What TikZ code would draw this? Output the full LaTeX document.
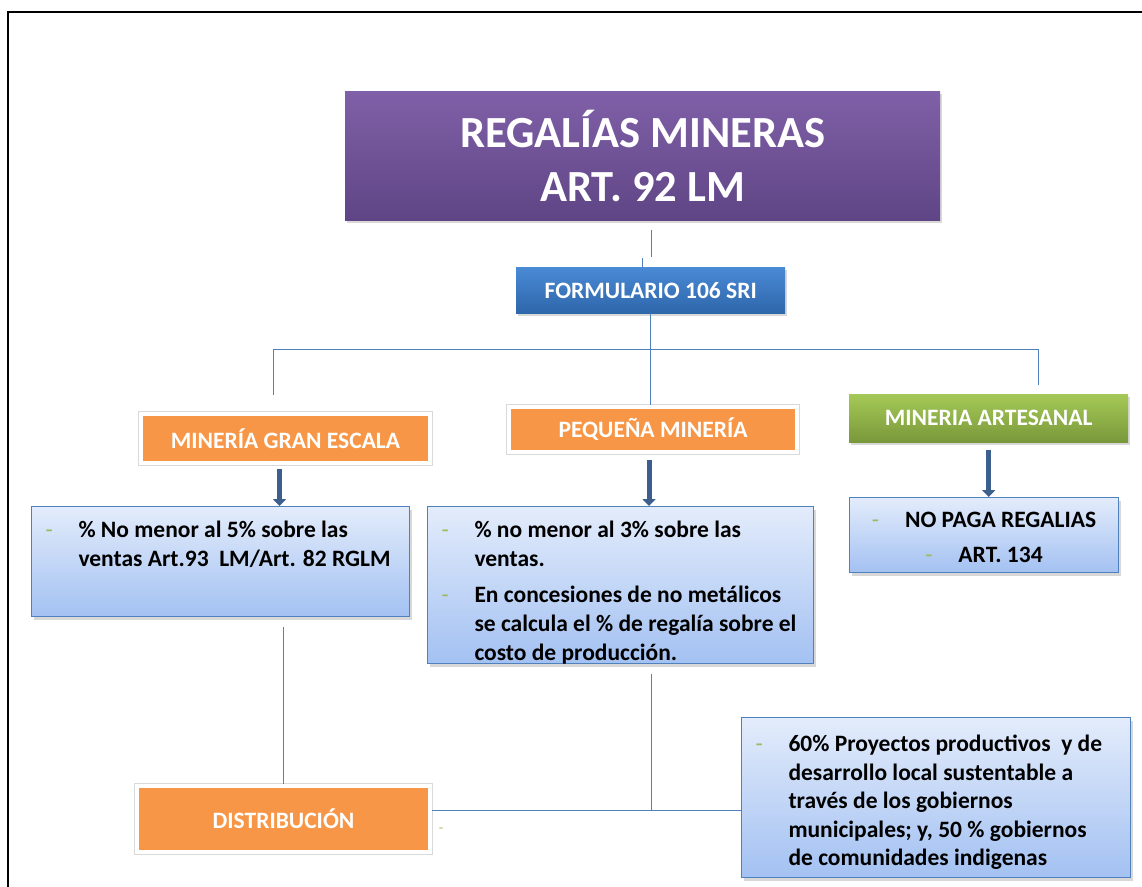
\documentclass[tikz,border=0pt]{standalone}
\usepackage{fontspec}
\setmainfont{Carlito}
\usetikzlibrary{arrows.meta,shadows,positioning}

\definecolor{lineblue}{HTML}{4F81BD}
\definecolor{arrowblue}{HTML}{3C5F8E}
\definecolor{headorange}{HTML}{F79646}
\definecolor{dashgreen}{HTML}{9BBB59}
\definecolor{purpletop}{HTML}{8060A8}
\definecolor{purplebot}{HTML}{5F4585}
\definecolor{formtop}{HTML}{4A8AD6}
\definecolor{formbot}{HTML}{2E66AA}
\definecolor{greentop}{HTML}{A5C957}
\definecolor{greenbot}{HTML}{79983A}
\definecolor{infotop}{HTML}{E3ECFB}
\definecolor{infobot}{HTML}{A3C1F2}

% guion verde con sangria francesa
\newcommand\dashitem[1]{\par\noindent\hangindent=47pt\hangafter=1%
  \makebox[47pt][l]{\hspace{14pt}\textcolor{dashgreen}{\normalfont -}}#1\par}
\newcommand\infotext[3]{\parbox[c][#2][t]{#1}{#3}}

\tikzset{
  conn/.style={draw=lineblue, line width=1pt},
  bigarrow/.style={draw=arrowblue, line width=5pt, -{Triangle[width=13pt,length=7pt]}},
  softshadow/.style={drop shadow={opacity=0.3, shadow xshift=2pt, shadow yshift=-3pt}},
  headbox/.style={rectangle, anchor=north west, inner sep=0pt, text=white,
    font=\bfseries\fontsize{23.5}{28}\selectfont, softshadow},
  orangebox/.style={headbox, fill=headorange, draw=white, line width=4pt,
    preaction={draw=black!15, line width=5.5pt}},
  infobox/.style={rectangle, anchor=north west, inner sep=0pt, draw=lineblue,
    line width=1pt, top color=infotop, bottom color=infobot, softshadow,
    font=\bfseries\fontsize{23.5}{29}\selectfont},
}

\begin{document}
\begin{tikzpicture}[x=1pt,y=-1pt]
\useasboundingbox (0,0) rectangle (1142,886);
\fill[white] (0,0) rectangle (1142,886);
% marco
\draw[line width=2pt] (7.5,900) -- (7.5,12) -- (1150,12);

% titulo
\node[headbox, top color=purpletop, bottom color=purplebot, minimum width=595pt,
  minimum height=129pt, align=center, font=\bfseries\fontsize{44.5}{54}\selectfont]
  (title) at (345,91) {REGALÍAS MINERAS\\ART. 92 LM};
\node[headbox, top color=formtop, bottom color=formbot, minimum width=269pt,
  minimum height=46pt] (form) at (516,267) {FORMULARIO 106 SRI};

% tipos de mineria
\node[orangebox, minimum width=289pt, minimum height=49pt] (gran) at (139,412)
  {MINERÍA GRAN ESCALA};
\node[orangebox, minimum width=288pt, minimum height=45pt] (peq) at (507,405)
  {PEQUEÑA MINERÍA};
\node[headbox, top color=greentop, bottom color=greenbot, minimum width=279pt,
  minimum height=48pt] (art) at (849,394) {MINERIA ARTESANAL};

% cajas de detalle
\node[infobox] (b1) at (31,506) {\infotext{378pt}{110pt}{\vspace*{14.5pt}%
  \dashitem{\mbox{\% No menor al 5\% sobre las}\\\mbox{ventas Art.93\ \ LM/Art. 82 RGLM}}}};
\node[infobox] (b2) at (427,506) {\infotext{386pt}{157pt}{\vspace*{14.5pt}%
  \dashitem{\mbox{\% no menor al 3\% sobre las}\\\mbox{ventas.}}\vspace{7pt}%
  \dashitem{\mbox{En concesiones de no metálicos}\\\mbox{se calcula el \% de regalía sobre el}\\\mbox{costo de producción.}}}};
\node[infobox] (b3) at (849,497) {\infotext{269pt}{75pt}{\centering\vspace*{14.5pt}%
  \textcolor{dashgreen}{\normalfont -}\hspace{26pt}NO PAGA REGALIAS\par\vspace{6pt}%
  \textcolor{dashgreen}{\normalfont -}\hspace{26pt}ART. 134\par}};
\node[orangebox, minimum width=293pt, minimum height=66pt] (dist) at (135,784)
  {DISTRIBUCIÓN};
\node[infobox, font=\bfseries\fontsize{23.5}{28.5}\selectfont] (b4) at (741,717)
  {\infotext{389pt}{160pt}{\vspace*{17.5pt}%
  \dashitem{\mbox{60\% Proyectos productivos\ \ y de}\\\mbox{desarrollo local sustentable a}\\\mbox{través de los gobiernos}\\\mbox{municipales; y, 50 \% gobiernos}\\\mbox{de comunidades indigenas}}}};
\node[text=dashgreen, font=\fontsize{14}{14}\selectfont] (distdash) at (441,830) {-};

% conectores
\coordinate (jl) at (273,349);
\coordinate (jr) at (1038,349);
\coordinate (dj) at (651,810);
\draw[conn] ([xshift=9pt,yshift=-10pt]title.south) -- ++(0,27);
\draw[conn] ([yshift=-38pt]title.south) -- (title.south |- form.north);
\draw[conn] (form.south) -- (form.south |- peq.north);
\draw[conn] ([yshift=-46pt]jl) -- (jl) -- (jr) -- ([yshift=-36pt]jr);
\draw[bigarrow] ([xshift=-6pt,yshift=-4pt]gran.south) -- ([xshift=-6pt]gran.south |- b1.north);
\draw[bigarrow] ([xshift=-4pt,yshift=-6pt]peq.south) -- ([xshift=-4pt]peq.south |- b2.north);
\draw[bigarrow] ([yshift=-8pt]art.south) -- (art.south |- b3.north);
\draw[conn] ([yshift=-10pt]b1.south -| dist.north) -- (dist.north);
\draw[conn] ([yshift=-10pt]b2.south -| dj) -- (dj);
\draw[conn] (dist.east |- dj) -- (b4.west |- dj);
\end{tikzpicture}
\end{document}
